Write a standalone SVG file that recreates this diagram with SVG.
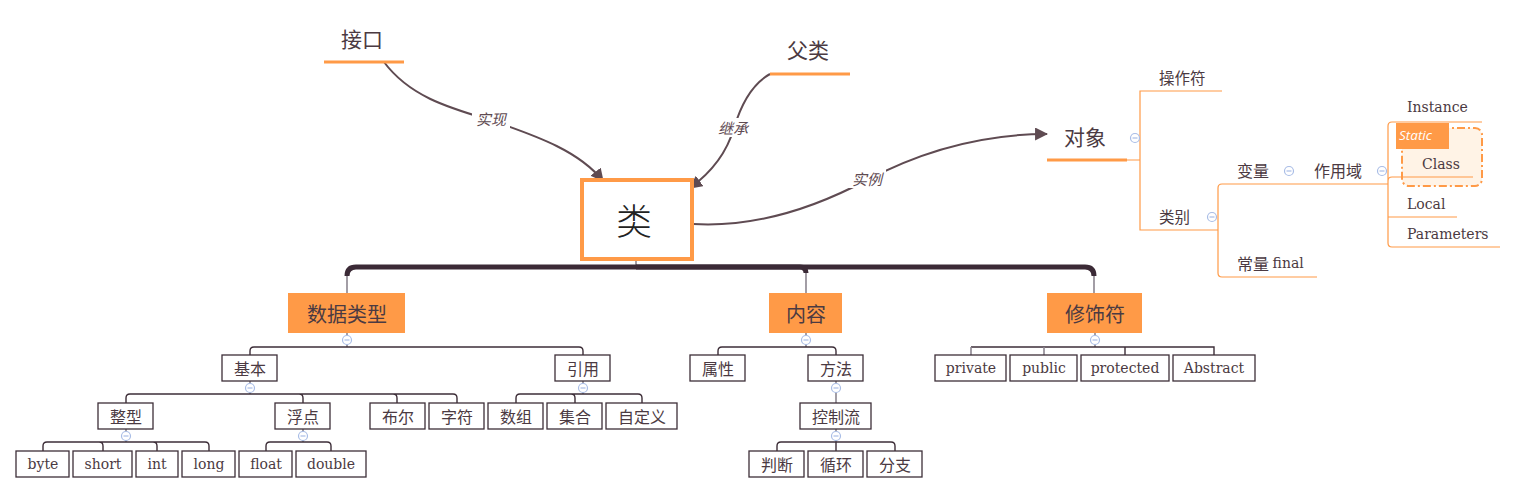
<svg xmlns="http://www.w3.org/2000/svg" width="1516" height="494" viewBox="0 0 1516 494">
<style>
.zh{font-family:"Noto Sans CJK SC","Noto Sans",sans-serif;fill:#4b3a42}
.en{font-family:"DejaVu Serif","Liberation Serif",serif;fill:#4b3a42;font-size:14px}
.box{fill:#fff;stroke:#3d2e38;stroke-width:1.3}
.l1{fill:#ff9a47}
.tl{fill:none;stroke:#3d2e38;stroke-width:1.4}
.gv{fill:none;stroke:#8c8690;stroke-width:1.6}
.or{fill:none;stroke:#ff9a47;stroke-width:1.2}
.ul{stroke:#ff9a47;stroke-width:3}
.cc circle{fill:#fff;stroke:#a9bde6;stroke-width:1.2}
.cc path{stroke:#a9bde6;stroke-width:1.2}
.rel{fill:none;stroke:#5f4b52;stroke-width:2}
.lbl{font-family:"Noto Sans CJK SC",sans-serif;font-size:15px;font-style:italic;fill:#5f4b52}
</style>
<defs>
<marker id="arr" viewBox="0 0 12 12" refX="11" refY="6" markerWidth="13" markerHeight="13" markerUnits="userSpaceOnUse" orient="auto"><path d="M0,0 L12,6 L0,12 z" fill="#5f4b52"/></marker>
</defs>
<rect width="1516" height="494" fill="#fff"/>

<g id="connectors">
<path class="rel" d="M384,62 C410,97 450,108 490,120 C540,137 580,152 603,181" marker-end="url(#arr)"/>
<path class="rel" d="M770,74 C750,85 740,108 734,128 C727,152 712,172 690,188" marker-end="url(#arr)"/>
<path class="rel" d="M693,224 C760,228 820,205 867,180 C920,152 980,134 1047,134" marker-end="url(#arr)"/>
<rect x="472" y="109" width="38" height="19" fill="#fff"/>
<rect x="714" y="118" width="38" height="19" fill="#fff"/>
<rect x="848" y="169" width="38" height="19" fill="#fff"/>
<text class="lbl" x="491" y="118" text-anchor="middle" dominant-baseline="central">实现</text>
<text class="lbl" x="733" y="127" text-anchor="middle" dominant-baseline="central">继承</text>
<text class="lbl" x="867" y="178" text-anchor="middle" dominant-baseline="central">实例</text>

<path class="gv" d="M636,260 V267"/>
<path fill="none" stroke="#3b2a36" stroke-width="5" d="M636,267 H356 Q347,267 347,276"/>
<path fill="none" stroke="#3b2a36" stroke-width="5" d="M636,267 H800 Q806,267 806,273"/>
<path fill="none" stroke="#3b2a36" stroke-width="5" d="M636,267 H1085 Q1094,267 1094,276"/>
<path class="gv" d="M347,276 V293 M806,273 V293 M1094,276 V293"/>

<path class="gv" d="M347,333 V347"/>
<path class="tl" d="M250,355 V351 Q250,347 254,347 H579 Q583,347 583,351 V355"/>
<path class="gv" d="M250,381 V394 M583,381 V394"/>
<path class="tl" d="M126,403 V398 Q126,394 130,394 H453 Q457,394 457,398 V403 M303,403 V398 Q303,394 299,394 M397,403 V398 Q397,394 393,394"/>
<path class="gv" d="M126,429 V442 M303,429 V442"/>
<path class="tl" d="M43,451 V446 Q43,442 47,442 H205 Q209,442 209,446 V451 M103,451 V446 Q103,442 99,442 M157,451 V446 Q157,442 153,442"/>
<path class="tl" d="M266,451 V446 Q266,442 270,442 H327 Q331,442 331,446 V451"/>
<path class="tl" d="M516,403 V398 Q516,394 520,394 H638 Q642,394 642,398 V403 M575,403 V398 Q575,394 571,394"/>

<path class="gv" d="M806,333 V347"/>
<path class="tl" d="M718,355 V351 Q718,347 722,347 H832 Q836,347 836,351 V355"/>
<path class="gv" d="M836,381 V403 M836,429 V442"/>
<path class="tl" d="M777,451 V446 Q777,442 781,442 H891 Q895,442 895,446 V451 M836,442 V451"/>

<path class="gv" d="M1095,333 V347"/>
<path class="tl" d="M971,347 H1214 V355 M1125,347 V355"/>
<path class="gv" d="M971,347 V355 M1044,347 V355"/>

<path class="or" d="M1127,160 H1140 M1222,91 H1140 V230 H1218"/>
<path class="or" d="M1388,184 H1222 Q1218,184 1218,188 V273 Q1218,277 1222,277 H1317"/>
<rect x="1402" y="128" width="80" height="58" rx="7" fill="#fff3e6" stroke="#ff9a47" stroke-width="2" stroke-dasharray="8 3 2 3"/>
<path class="or" d="M1482,122 H1392 Q1388,122 1388,126 V243 Q1388,247 1392,247 H1500 M1388,181 Q1388,177 1392,177 H1473 M1388,217 H1457"/>
</g>

<g id="node-jiekou">
<text class="zh" x="362" y="38" font-size="21" text-anchor="middle" dominant-baseline="central">接口</text>
<line class="ul" x1="324" y1="62" x2="404" y2="62"/>
</g>
<g id="node-fulei">
<text class="zh" x="808" y="49" font-size="21" text-anchor="middle" dominant-baseline="central">父类</text>
<line class="ul" x1="770" y1="74" x2="850" y2="74"/>
</g>
<g id="node-lei">
<rect x="582" y="180" width="110" height="79" fill="#fff" stroke="#ff9a47" stroke-width="4"/>
<text x="634" y="219" font-family="'Noto Sans CJK SC',sans-serif" font-size="36" font-weight="300" fill="#222" text-anchor="middle" dominant-baseline="central">类</text>
</g>
<g id="node-duixiang">
<text class="zh" x="1085" y="136" font-size="21" text-anchor="middle" dominant-baseline="central">对象</text>
<line class="ul" x1="1047" y1="160" x2="1127" y2="160"/>
<g class="cc"><circle cx="1135" cy="138" r="4.5"/><path d="M1132.5,138 H1137.5"/></g>
</g>

<g id="node-shujuleixing">
<rect class="l1" x="288" y="293" width="117" height="40"/>
<text class="zh" x="347" y="313" font-size="20" text-anchor="middle" dominant-baseline="central">数据类型</text>
<g class="cc"><circle cx="347" cy="340" r="4.5"/><path d="M344.5,340 H349.5"/></g>
</g>
<g id="node-neirong">
<rect class="l1" x="769" y="293" width="73" height="40"/>
<text class="zh" x="806" y="313" font-size="20" text-anchor="middle" dominant-baseline="central">内容</text>
<g class="cc"><circle cx="806" cy="340" r="4.5"/><path d="M803.5,340 H808.5"/></g>
</g>
<g id="node-xiushifu">
<rect class="l1" x="1047" y="293" width="95" height="40"/>
<text class="zh" x="1095" y="313" font-size="20" text-anchor="middle" dominant-baseline="central">修饰符</text>
<g class="cc"><circle cx="1095" cy="340" r="4.5"/><path d="M1092.5,340 H1097.5"/></g>
</g>

<g id="node-jiben">
<rect class="box" x="222" y="355" width="55" height="26"/>
<text class="zh" x="250" y="368" font-size="16" text-anchor="middle" dominant-baseline="central">基本</text>
<g class="cc"><circle cx="250" cy="388" r="4.5"/><path d="M247.5,388 H252.5"/></g>
</g>
<g id="node-yinyong">
<rect class="box" x="555" y="355" width="55" height="26"/>
<text class="zh" x="583" y="368" font-size="16" text-anchor="middle" dominant-baseline="central">引用</text>
<g class="cc"><circle cx="583" cy="388" r="4.5"/><path d="M580.5,388 H585.5"/></g>
</g>
<g id="node-zhengxing">
<rect class="box" x="98" y="403" width="55" height="26"/>
<text class="zh" x="126" y="416" font-size="16" text-anchor="middle" dominant-baseline="central">整型</text>
<g class="cc"><circle cx="126" cy="436" r="4.5"/><path d="M123.5,436 H128.5"/></g>
</g>
<g id="node-fudian">
<rect class="box" x="275" y="403" width="55" height="26"/>
<text class="zh" x="303" y="416" font-size="16" text-anchor="middle" dominant-baseline="central">浮点</text>
<g class="cc"><circle cx="303" cy="436" r="4.5"/><path d="M300.5,436 H305.5"/></g>
</g>
<g id="node-buer">
<rect class="box" x="370" y="403" width="55" height="26"/>
<text class="zh" x="398" y="416" font-size="16" text-anchor="middle" dominant-baseline="central">布尔</text>
</g>
<g id="node-zifu">
<rect class="box" x="429" y="403" width="55" height="26"/>
<text class="zh" x="457" y="416" font-size="16" text-anchor="middle" dominant-baseline="central">字符</text>
</g>
<g id="node-byte">
<rect class="box" x="16" y="451" width="53" height="26"/>
<text class="en" x="43" y="464" text-anchor="middle" dominant-baseline="central">byte</text>
</g>
<g id="node-short">
<rect class="box" x="73" y="451" width="59" height="26"/>
<text class="en" x="103" y="464" text-anchor="middle" dominant-baseline="central">short</text>
</g>
<g id="node-int">
<rect class="box" x="136" y="451" width="42" height="26"/>
<text class="en" x="157" y="464" text-anchor="middle" dominant-baseline="central">int</text>
</g>
<g id="node-long">
<rect class="box" x="182" y="451" width="53" height="26"/>
<text class="en" x="209" y="464" text-anchor="middle" dominant-baseline="central">long</text>
</g>
<g id="node-float">
<rect class="box" x="239" y="451" width="53" height="26"/>
<text class="en" x="266" y="464" text-anchor="middle" dominant-baseline="central">float</text>
</g>
<g id="node-double">
<rect class="box" x="296" y="451" width="70" height="26"/>
<text class="en" x="331" y="464" text-anchor="middle" dominant-baseline="central">double</text>
</g>
<g id="node-shuzu">
<rect class="box" x="488" y="403" width="55" height="26"/>
<text class="zh" x="516" y="416" font-size="16" text-anchor="middle" dominant-baseline="central">数组</text>
</g>
<g id="node-jihe">
<rect class="box" x="547" y="403" width="55" height="26"/>
<text class="zh" x="575" y="416" font-size="16" text-anchor="middle" dominant-baseline="central">集合</text>
</g>
<g id="node-zidingyi">
<rect class="box" x="606" y="403" width="71" height="26"/>
<text class="zh" x="642" y="416" font-size="16" text-anchor="middle" dominant-baseline="central">自定义</text>
</g>

<g id="node-shuxing">
<rect class="box" x="690" y="355" width="55" height="26"/>
<text class="zh" x="718" y="368" font-size="16" text-anchor="middle" dominant-baseline="central">属性</text>
</g>
<g id="node-fangfa">
<rect class="box" x="808" y="355" width="55" height="26"/>
<text class="zh" x="836" y="368" font-size="16" text-anchor="middle" dominant-baseline="central">方法</text>
<g class="cc"><circle cx="836" cy="388" r="4.5"/><path d="M833.5,388 H838.5"/></g>
</g>
<g id="node-kongzhiliu">
<rect class="box" x="800" y="403" width="71" height="26"/>
<text class="zh" x="836" y="416" font-size="16" text-anchor="middle" dominant-baseline="central">控制流</text>
<g class="cc"><circle cx="836" cy="436" r="4.5"/><path d="M833.5,436 H838.5"/></g>
</g>
<g id="node-panduan">
<rect class="box" x="749" y="451" width="55" height="26"/>
<text class="zh" x="777" y="464" font-size="16" text-anchor="middle" dominant-baseline="central">判断</text>
</g>
<g id="node-xunhuan">
<rect class="box" x="808" y="451" width="55" height="26"/>
<text class="zh" x="836" y="464" font-size="16" text-anchor="middle" dominant-baseline="central">循环</text>
</g>
<g id="node-fenzhi">
<rect class="box" x="867" y="451" width="55" height="26"/>
<text class="zh" x="895" y="464" font-size="16" text-anchor="middle" dominant-baseline="central">分支</text>
</g>

<g id="node-private">
<rect class="box" x="935" y="355" width="71" height="26"/>
<text class="en" x="971" y="368" text-anchor="middle" dominant-baseline="central">private</text>
</g>
<g id="node-public">
<rect class="box" x="1010" y="355" width="67" height="26"/>
<text class="en" x="1044" y="368" text-anchor="middle" dominant-baseline="central">public</text>
</g>
<g id="node-protected">
<rect class="box" x="1081" y="355" width="88" height="26"/>
<text class="en" x="1125" y="368" text-anchor="middle" dominant-baseline="central">protected</text>
</g>
<g id="node-abstract">
<rect class="box" x="1173" y="355" width="82" height="26"/>
<text class="en" x="1214" y="368" text-anchor="middle" dominant-baseline="central">Abstract</text>
</g>

<g id="node-caozuofu">
<text class="zh" x="1159" y="77" font-size="15.5" dominant-baseline="central">操作符</text>
</g>
<g id="node-leibie">
<text class="zh" x="1159" y="216" font-size="15.5" dominant-baseline="central">类别</text>
<g class="cc"><circle cx="1212" cy="217" r="4.5"/><path d="M1209.5,217 H1214.5"/></g>
</g>
<g id="node-bianliang">
<text class="zh" x="1237" y="170" font-size="16" dominant-baseline="central">变量</text>
<g class="cc"><circle cx="1289" cy="171" r="4.5"/><path d="M1286.5,171 H1291.5"/></g>
</g>
<g id="node-zuoyongyu">
<text class="zh" x="1314" y="170" font-size="16" dominant-baseline="central">作用域</text>
<g class="cc"><circle cx="1382" cy="171" r="4.5"/><path d="M1379.5,171 H1384.5"/></g>
</g>
<g id="node-changliang">
<text class="zh" x="1237" y="263" font-size="16" dominant-baseline="central">常量 <tspan class="en" font-size="14">final</tspan></text>
</g>
<g id="node-instance">
<text class="en" x="1407" y="107" dominant-baseline="central">Instance</text>
</g>
<g id="node-class">
<rect x="1396" y="123" width="53" height="26" fill="#ff9a47"/>
<text x="1399" y="140" font-family="'Open Sans','Liberation Sans',sans-serif" font-size="13.5" font-style="italic" fill="#fff">Static</text>
<text class="en" x="1441" y="164" text-anchor="middle" dominant-baseline="central">Class</text>
</g>
<g id="node-local">
<text class="en" x="1407" y="204" dominant-baseline="central">Local</text>
</g>
<g id="node-parameters">
<text class="en" x="1407" y="234" dominant-baseline="central">Parameters</text>
</g>
</svg>
